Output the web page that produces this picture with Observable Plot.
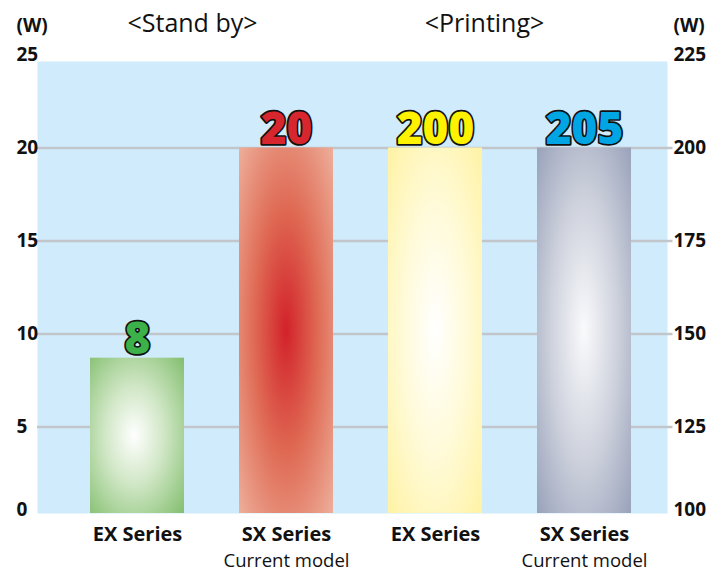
<!DOCTYPE html>
<html>
<head>
<meta charset="utf-8">
<script src="https://cdn.jsdelivr.net/npm/d3@7"></script>
<script src="https://cdn.jsdelivr.net/npm/@observablehq/plot@0.6"></script>
<style>
  html, body { margin: 0; padding: 0; background: #ffffff; }
  #chart svg { display: block; overflow: visible; }
</style>
</head>
<body>
<div id="chart"></div>
<script>
// ---- data ----
const modes = ["Stand by", "Stand by", "Printing", "Printing"];
const series = ["EX Series", "SX Series", "EX Series", "SX Series"];
const subLabels = ["", "Current model", "", "Current model"];
const barWatts = [8.7, 20, 200, 200];          // bar heights as drawn
const valueLabels = ["8", "20", "200", "205"];  // printed values
const leftTicks = [0, 5, 10, 15, 20, 25];
const rightTicks = [100, 125, 150, 175, 200, 225];
const gridTicks = [5, 10, 15, 20];
const titles = ["<Stand by>", "<Printing>"];

// ---- styles ----
const labelColors = ["#3cb14a", "#d7262e", "#fff200", "#00a6e4"];
const gradIds = ["gGreen", "gRed", "gYellow", "gSlate"];

// right axis (Printing) maps onto the left (Stand by) scale
const toLeft = (w) => (w - 100) / 5;

const rows = modes.map((m, i) => ({
  key: m + "|" + i,
  mode: m,
  series: series[i],
  sub: subLabels[i],
  v: i < 2 ? barWatts[i] : toLeft(barWatts[i]),
  label: valueLabels[i],
  fill: `url(#${gradIds[i]})`,
  color: labelColors[i]
}));

const font = "'Open Sans', 'DejaVu Sans', sans-serif";

const plot = Plot.plot({
  width: 721,
  height: 573,
  marginLeft: 89,
  marginRight: 89.5,
  marginTop: 54.5,
  marginBottom: 53.5,
  style: { fontFamily: font, background: "#ffffff", overflow: "visible" },
  x: { type: "band", domain: rows.map(d => d.key), paddingInner: 0.371, paddingOuter: 0, axis: null },
  y: { domain: [0, 25], axis: null },
  color: { type: "identity" },
  marks: [
    Plot.frame({ fill: "#d0ebfc", stroke: null, insetLeft: -52, insetRight: -35.5, insetTop: 6.5, insetBottom: 6.5 }),
    Plot.ruleY(gridTicks, { stroke: "#c2c5c9", strokeWidth: 2.5, insetLeft: -52, insetRight: -41 }),
    Plot.barY(rows, { x: "key", y: "v", fill: "fill", insetBottom: 6.5 }),
    // value labels
    Plot.text(rows, {
      x: "key", y: "v", text: "label", fill: "color",
      stroke: "#111", strokeWidth: 3.4, strokeLinejoin: "round", paintOrder: "stroke",
      fontSize: 44, fontWeight: 800, lineAnchor: "bottom", dy: -4
    }),
    // category labels
    Plot.text(rows, { x: "key", frameAnchor: "bottom", text: "series", fontSize: 20, fontWeight: 700, fill: "#111", dy: 15, lineAnchor: "middle" }),
    Plot.text(rows.filter(d => d.sub), { x: "key", frameAnchor: "bottom", text: "sub", fontSize: 18.5, fill: "#111", dy: 41.5, lineAnchor: "middle" }),
    // left axis labels
    Plot.text(leftTicks.filter(t => t > 0), { y: d => d, text: d => String(d), frameAnchor: "left", dx: -73, textAnchor: "start", fontSize: 19, fontWeight: 700, fill: "#111" }),
    Plot.text(leftTicks.filter(t => t === 0), { y: d => d, text: d => String(d), frameAnchor: "left", dx: -73, dy: -10, textAnchor: "start", fontSize: 19, fontWeight: 700, fill: "#111" }),
    // right axis labels
    Plot.text(rightTicks.filter(t => t > 100), { y: d => toLeft(d), text: d => String(d), frameAnchor: "right", dx: 41.5, textAnchor: "start", fontSize: 19, fontWeight: 700, fill: "#111" }),
    Plot.text(rightTicks.filter(t => t === 100), { y: d => toLeft(d), text: d => String(d), frameAnchor: "right", dx: 41.5, dy: -10, textAnchor: "start", fontSize: 19, fontWeight: 700, fill: "#111" }),
    // units
    Plot.text(["(W)"], { frameAnchor: "top-left", dx: -73, dy: -29.5, textAnchor: "start", fontSize: 19, fontWeight: 700, fill: "#111", lineAnchor: "middle" }),
    Plot.text(["(W)"], { frameAnchor: "top-right", dx: 41.5, dy: -29.5, textAnchor: "start", fontSize: 19, fontWeight: 700, fill: "#111", lineAnchor: "middle" }),
    // section titles
    Plot.text([titles[0]], { frameAnchor: "top-left", dx: 103, dy: -31.5, textAnchor: "middle", fontSize: 25, fill: "#111", lineAnchor: "middle" }),
    Plot.text([titles[1]], { frameAnchor: "top-left", dx: 395, dy: -31.5, textAnchor: "middle", fontSize: 25, fill: "#111", lineAnchor: "middle" })
  ]
});

// radial gradients for the bars
const svg = d3.select(plot);
const defs = svg.insert("defs", ":first-child");
const grads = [
  { id: "gGreen", cx: 0.47, cy: 0.5, r: 0.72, stops: [[0, "#ffffff"], [0.45, "#cfe6c4"], [1, "#84bf70"]] },
  { id: "gRed", cx: 0.5, cy: 0.5, r: 0.75, stops: [[0, "#d2222a"], [0.45, "#df6a54"], [1, "#efb7a3"]] },
  { id: "gYellow", cx: 0.5, cy: 0.5, r: 0.72, stops: [[0, "#ffffff"], [0.5, "#fffad6"], [1, "#fff2a2"]] },
  { id: "gSlate", cx: 0.5, cy: 0.5, r: 0.72, stops: [[0, "#fafafc"], [0.5, "#cdd1dc"], [1, "#97a0b9"]] }
];
for (const g of grads) {
  const rg = defs.append("radialGradient").attr("id", g.id)
    .attr("cx", g.cx).attr("cy", g.cy).attr("r", g.r);
  for (const [o, c] of g.stops) rg.append("stop").attr("offset", o).attr("stop-color", c);
}

document.getElementById("chart").appendChild(plot);
</script>
</body>
</html>
